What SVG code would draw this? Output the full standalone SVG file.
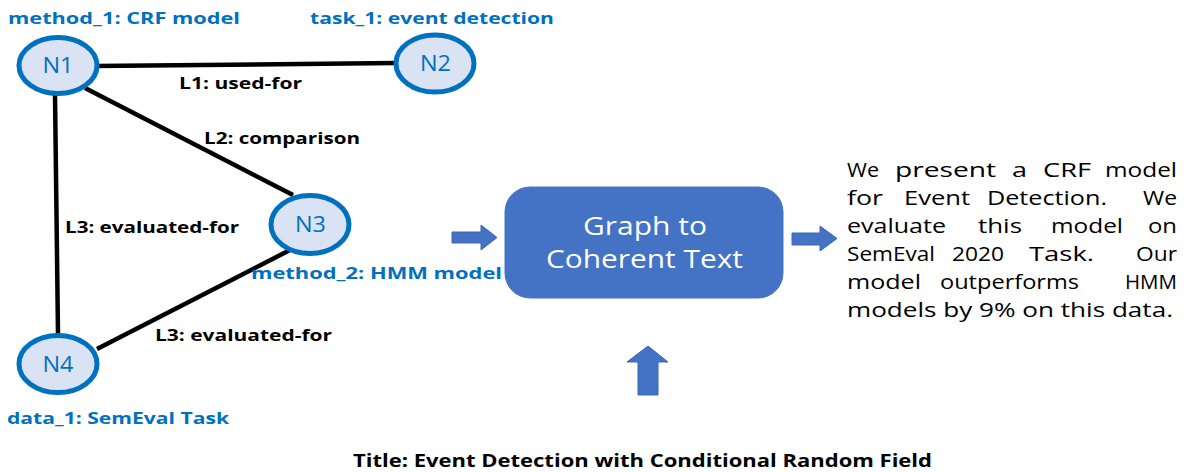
<svg xmlns="http://www.w3.org/2000/svg" width="1189" height="472" viewBox="0 0 1189 472">
<style>
.node{fill:#DAE3F3;stroke:#0070C0;stroke-width:5}
.nt{font-family:"Open Sans","Noto Sans",sans-serif;font-size:21px;fill:#0070C0;text-anchor:middle}
.bl{font-family:"Open Sans","Noto Sans",sans-serif;font-size:16px;font-weight:bold;fill:#0070C0}
.el{font-family:"Open Sans","Noto Sans",sans-serif;font-size:16px;font-weight:bold;fill:#000}
.edge{stroke:#000;stroke-width:4.5;fill:none}
.arrow{fill:#4472C4;stroke:#3A66B5;stroke-width:1}
.box{fill:#4472C4;stroke:#4472C4;stroke-width:1}
.bt{font-family:"Open Sans","Noto Sans",sans-serif;font-size:25px;fill:#fff}
.pt{font-family:"Open Sans","Noto Sans",sans-serif;font-size:20px;fill:#000}
.title{font-family:"Open Sans","Noto Sans",sans-serif;font-size:17px;font-weight:bold;fill:#000}
</style>
<g id="connectors">
<line class="edge" x1="95" y1="66" x2="396" y2="63"/>
<line class="edge" x1="85" y1="88" x2="293" y2="195"/>
<line class="edge" x1="55" y1="95" x2="58" y2="334"/>
<line class="edge" x1="290" y1="250" x2="97" y2="349"/>
<text class="el" x="179" y="89" textLength="123" lengthAdjust="spacingAndGlyphs">L1: used-for</text>
<text class="el" x="204" y="144" textLength="156" lengthAdjust="spacingAndGlyphs">L2: comparison</text>
<text class="el" x="65" y="233" textLength="174" lengthAdjust="spacingAndGlyphs">L3: evaluated-for</text>
<text class="el" x="155" y="341" textLength="177" lengthAdjust="spacingAndGlyphs">L3: evaluated-for</text>
</g>
<g id="N1">
<ellipse class="node" cx="58" cy="65.5" rx="39" ry="28"/>
<text class="nt" x="58" y="73" textLength="31" lengthAdjust="spacingAndGlyphs">N1</text>
<text class="bl" x="8" y="24" textLength="232" lengthAdjust="spacingAndGlyphs">method_1: CRF model</text>
</g>
<g id="N2">
<ellipse class="node" cx="435" cy="63.5" rx="39" ry="28.5"/>
<text class="nt" x="435.5" y="71" textLength="31" lengthAdjust="spacingAndGlyphs">N2</text>
<text class="bl" x="310" y="24" textLength="244" lengthAdjust="spacingAndGlyphs">task_1: event detection</text>
</g>
<g id="N3">
<ellipse class="node" cx="310" cy="224.5" rx="39" ry="29"/>
<text class="nt" x="310.5" y="232" textLength="31" lengthAdjust="spacingAndGlyphs">N3</text>
<text class="bl" x="251" y="279" textLength="251" lengthAdjust="spacingAndGlyphs">method_2: HMM model</text>
</g>
<g id="N4">
<ellipse class="node" cx="58" cy="364" rx="39" ry="28.5"/>
<text class="nt" x="58" y="372" textLength="31" lengthAdjust="spacingAndGlyphs">N4</text>
<text class="bl" x="7" y="424" textLength="222" lengthAdjust="spacingAndGlyphs">data_1: SemEval Task</text>
</g>
<g id="arrow-in">
<polygon class="arrow" points="452,232 481,232 481,225 497,237.5 481,250 481,243 452,243"/>
</g>
<g id="graph-to-text">
<rect class="box" x="505" y="187" width="278" height="111" rx="25" ry="25"/>
<text class="bt" x="583" y="235" textLength="124" lengthAdjust="spacingAndGlyphs">Graph to</text>
<text class="bt" x="546" y="268" textLength="197" lengthAdjust="spacingAndGlyphs">Coherent Text</text>
</g>
<g id="arrow-out">
<polygon class="arrow" points="792,233 820,233 820,226 837,238.5 820,251 820,245 792,245"/>
</g>
<g id="arrow-up">
<polygon class="arrow" points="648,346 668,362 658,362 658,395 638,395 638,362 627,362"/>
</g>
<g id="output-text">
<text class="pt" x="847" y="177" textLength="32" lengthAdjust="spacingAndGlyphs">We</text>
<text class="pt" x="895" y="177" textLength="101" lengthAdjust="spacingAndGlyphs">present</text>
<text class="pt" x="1012" y="177" textLength="15" lengthAdjust="spacingAndGlyphs">a</text>
<text class="pt" x="1043" y="177" textLength="48" lengthAdjust="spacingAndGlyphs">CRF</text>
<text class="pt" x="1105" y="177" textLength="72" lengthAdjust="spacingAndGlyphs">model</text>
<text class="pt" x="847" y="205" textLength="36" lengthAdjust="spacingAndGlyphs">for</text>
<text class="pt" x="904" y="205" textLength="66" lengthAdjust="spacingAndGlyphs">Event</text>
<text class="pt" x="987" y="205" textLength="120" lengthAdjust="spacingAndGlyphs">Detection.</text>
<text class="pt" x="1143" y="205" textLength="34" lengthAdjust="spacingAndGlyphs">We</text>
<text class="pt" x="847" y="233" textLength="99" lengthAdjust="spacingAndGlyphs">evaluate</text>
<text class="pt" x="978" y="233" textLength="44" lengthAdjust="spacingAndGlyphs">this</text>
<text class="pt" x="1051" y="233" textLength="72" lengthAdjust="spacingAndGlyphs">model</text>
<text class="pt" x="1148" y="233" textLength="29" lengthAdjust="spacingAndGlyphs">on</text>
<text class="pt" x="847" y="261" textLength="88" lengthAdjust="spacingAndGlyphs">SemEval</text>
<text class="pt" x="952" y="261" textLength="52" lengthAdjust="spacingAndGlyphs">2020</text>
<text class="pt" x="1029" y="261" textLength="65" lengthAdjust="spacingAndGlyphs">Task.</text>
<text class="pt" x="1136" y="261" textLength="41" lengthAdjust="spacingAndGlyphs">Our</text>
<text class="pt" x="847" y="289" textLength="74" lengthAdjust="spacingAndGlyphs">model</text>
<text class="pt" x="940" y="289" textLength="139" lengthAdjust="spacingAndGlyphs">outperforms</text>
<text class="pt" x="1125" y="289" textLength="52" lengthAdjust="spacingAndGlyphs">HMM</text>
<text class="pt" x="847" y="317" textLength="326" lengthAdjust="spacingAndGlyphs">models by 9% on this data.</text>
</g>
<g id="title">
<text class="title" x="353" y="467" textLength="579" lengthAdjust="spacingAndGlyphs">Title: Event Detection with Conditional Random Field</text>
</g>
</svg>
